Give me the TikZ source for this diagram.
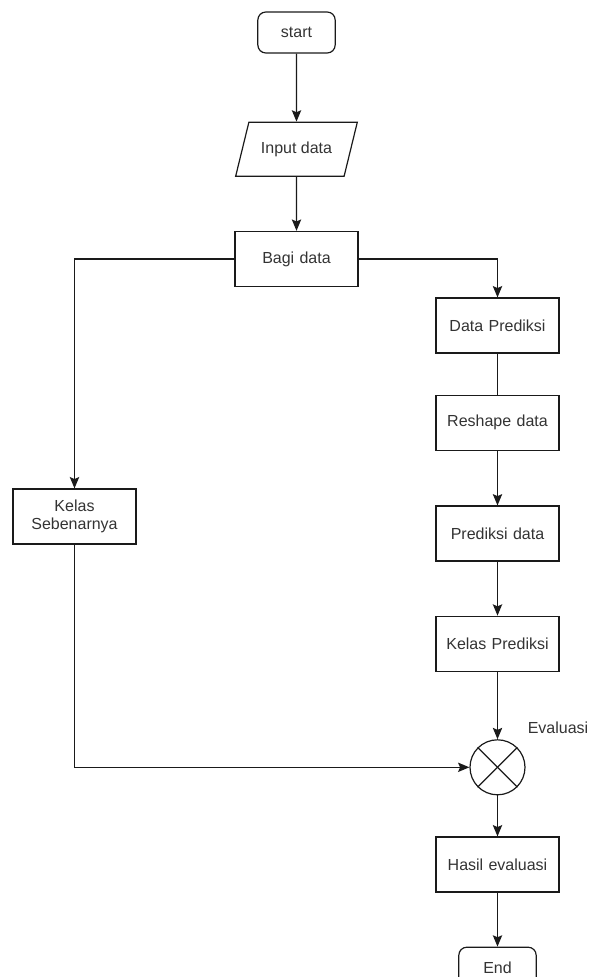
\documentclass[tikz,border=0pt]{standalone}
\usepackage{fontspec}
\setmainfont{Liberation Sans}
\usetikzlibrary{positioning, shapes.geometric, arrows.meta}
\definecolor{lin}{HTML}{1A1A1A}
\definecolor{txt}{HTML}{333333}

\begin{document}
\begin{tikzpicture}[x=0.75pt, y=-0.75pt, font=\fontsize{12pt}{14pt}\selectfont, block/.style={rectangle,draw=lin,line width=0.9pt,minimum width=92.25pt,minimum height=41.25pt,text width=85pt,align=center,text=txt}, term/.style={rectangle,rounded corners=6pt,draw=lin,line width=0.9pt,minimum width=58pt,minimum height=30.75pt,text=txt}, io/.style={trapezium,trapezium left angle=65,trapezium right angle=115,trapezium stretches=true,draw=lin,line width=0.9pt,minimum width=91.5pt,minimum height=40.5pt,text=txt}, line/.style={draw=lin,line width=0.9pt}, arr/.style={line,-{Stealth[length=8.5pt,width=7pt,inset=1.5pt]}} ]
\useasboundingbox (0,0) rectangle (590,977);
\node (b1) [term] at (296.5,32.5) {start};
\node (b2) [io, below=51pt of b1] {Input data};
\node (b3) [block, below=40.5pt of b2] {Bagi data};
\node (b4) [block] at (497.5,325.5) {Data Prediksi};
\node (b5) [block, below=30.75pt of b4] {Reshape data};
\node (b6) [block, below=41pt of b5] {Prediksi data};
\node (b7) [block, below=40.5pt of b6] {Kelas Prediksi};
\node (ev) [circle, draw=lin, line width=0.9pt, minimum size=41.25pt, inner sep=0pt, below=50.5pt of b7] {};
\node (b8) [block, below=30.75pt of ev] {Hasil evaluasi};
\node (b9) [term, below=40.5pt of b8] {End};
\node (b10) [block] at (74.5,516.5) {Kelas\\Sebenarnya};
\node (lbl) [text=txt] at (558,728) {Evaluasi};
  \begin{scope}
    \draw [line] (ev.north west) -- (ev.south east);
    \draw [line] (ev.north east) -- (ev.south west);
    \draw [arr] (b1) -- (b2);
    \draw [arr] (b2) -- (b3);
    \draw [arr] (b3.west) -| (b10);
    \draw [arr] (b3.east) -| (b4);
    \draw [line] (b4) -- (b5);
    \draw [arr] (b5) -- (b6);
    \draw [arr] (b6) -- (b7);
    \draw [arr] (b7) -- (ev);
    \draw [arr] (b10) |- (ev);
    \draw [arr] (ev) -- (b8);
    \draw [arr] (b8) -- (b9);
  \end{scope}
\end{tikzpicture}
\end{document}
